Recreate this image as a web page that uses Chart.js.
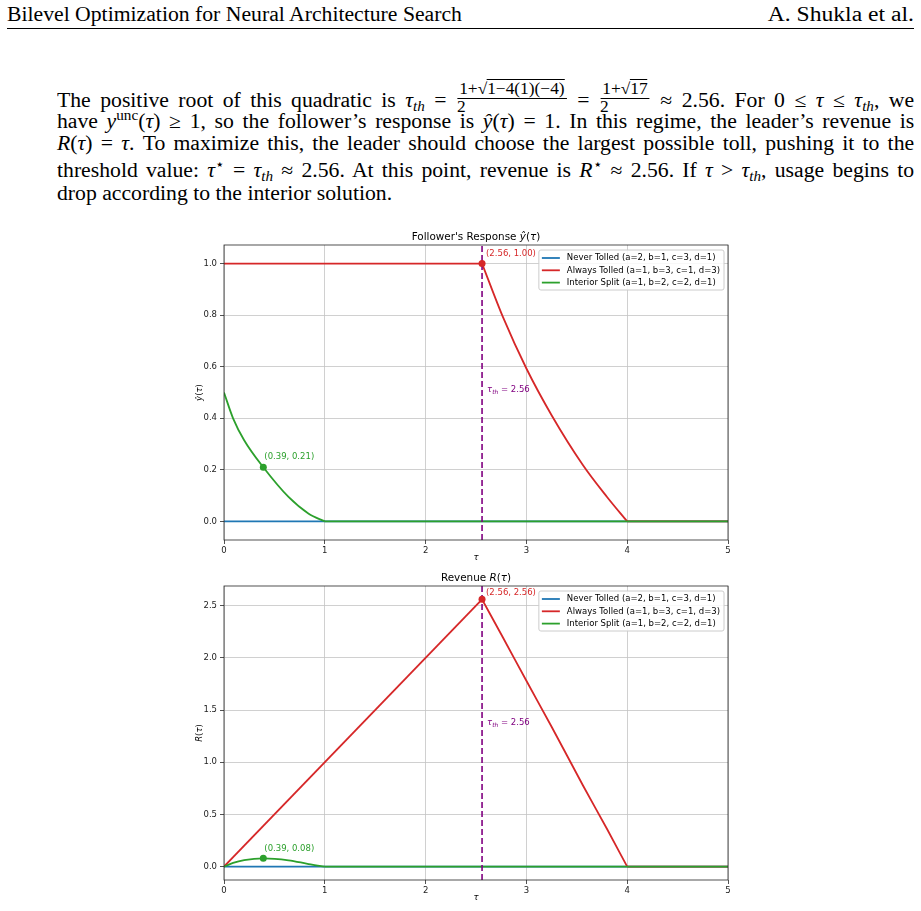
<!DOCTYPE html>
<html>
<head>
<meta charset="utf-8">
<script src="https://cdn.jsdelivr.net/npm/chart.js@4.4.0/dist/chart.umd.min.js"></script>
<style>
    body { margin: 0; width: 921px; height: 911px; background: #fff; position: relative; overflow: hidden; font-family: "Liberation Serif", serif; color: #000; }
    .hdr { position: absolute; top: 3px; font-size: 20px; line-height: 22px; white-space: nowrap; transform: scaleX(1.085); }
    .rule { position: absolute; left: 7px; width: 907px; top: 28px; height: 1px; background: #000; }
    .ln { position: absolute; left: 57px; width: 790px; font-size: 20px; line-height: 22px; text-align: justify; text-align-last: justify; white-space: nowrap; transform: scaleX(1.085); transform-origin: 0 0; }
    .ln sub, .ln sup { font-size: 0.7em; line-height: 0; }
    .ln sub { vertical-align: -0.25em; }
    .frac { display: inline-block; vertical-align: middle; position: relative; top: -4px; text-align: center; font-size: 16px; line-height: 16px; margin: -14px 1px; }
    .frac .num { display: block; border-bottom: 1px solid #000; padding: 0 2px 1px; }
    .frac .den { display: block; }
    .ov { border-top: 1px solid #000; }
    canvas { position: absolute; left: 140px; }
</style>
</head>
<body>
<div class="hdr" style="left:7px; transform-origin:0 0">Bilevel Optimization for Neural Architecture Search</div>
<div class="hdr" style="right:7px; transform-origin:100% 0; transform:scaleX(1.18)">A. Shukla et al.</div>
<div class="rule"></div>

<div class="ln" style="top:89px">The positive root of this quadratic is <i>τ<sub>th</sub></i> = <span class="frac"><span class="num">1+√<span class="ov">1−4(1)(−4)</span></span><span class="den">2</span></span> = <span class="frac"><span class="num">1+√<span class="ov">17</span></span><span class="den">2</span></span> ≈ 2.56. For 0 ≤ <i>τ</i> ≤ <i>τ<sub>th</sub></i>, we</div>
<div class="ln" style="top:110px">have <i>y</i><sup>unc</sup>(<i>τ</i>) ≥ 1, so the follower’s response is <i>ŷ</i>(<i>τ</i>) = 1. In this regime, the leader’s revenue is</div>
<div class="ln" style="top:132px"><i>R</i>(<i>τ</i>) = <i>τ</i>. To maximize this, the leader should choose the largest possible toll, pushing it to the</div>
<div class="ln" style="top:159px">threshold value: <i>τ</i><sup>⋆</sup> = <i>τ<sub>th</sub></i> ≈ 2.56. At this point, revenue is <i>R</i><sup>⋆</sup> ≈ 2.56. If <i>τ</i> &gt; <i>τ<sub>th</sub></i>, usage begins to</div>
<div class="ln" style="top:182px; text-align-last:left">drop according to the interior solution.</div>

<canvas id="responseChart" width="610" height="340" style="top:225px"></canvas>
<canvas id="revenueChart" width="610" height="345" style="top:566px"></canvas>

<script>
// tick labels
const tauTicks = [0, 1, 2, 3, 4, 5];
const responseTicks = [0.0, 0.2, 0.4, 0.6, 0.8, 1.0];
const revenueTicks = [0.0, 0.5, 1.0, 1.5, 2.0, 2.5];

const seriesLabels = [
    "Never Tolled (a=2, b=1, c=3, d=1)",
    "Always Tolled (a=1, b=3, c=1, d=3)",
    "Interior Split (a=1, b=2, c=2, d=1)",
];

const tauThreshold = 2.56;

// Never Tolled: flat at zero
const neverTau = [0, 5];
const neverResponse = [0, 0];
const neverRevenue = [0, 0];

// Always Tolled: flat part up to the threshold
const alwaysFlatTau = [0, 2.56];
const alwaysFlatResponse = [1.0, 1.0];
const alwaysFlatRevenue = [0.0, 2.56];

// Always Tolled: falling part after the threshold
const alwaysDropTau = [2.56, 2.77, 3.0, 3.25, 3.56, 3.8, 4.0];
const alwaysDropResponse = [1.0, 0.79, 0.593, 0.412, 0.219, 0.095, 0.0];
const alwaysDropRevenue = [2.56, 2.19, 1.78, 1.34, 0.78, 0.36, 0.0];

const alwaysTailTau = [4, 5];
const alwaysTailValue = [0, 0];

// Interior Split: curved part on [0, 1]
const interiorTau = [0, 0.09, 0.2, 0.39, 0.64, 0.84, 1.0];
const interiorResponse = [0.5, 0.4, 0.315, 0.21, 0.095, 0.03, 0.0];
const interiorRevenue = [0.0, 0.036, 0.063, 0.08, 0.061, 0.025, 0.0];

const interiorTailTau = [1, 5];
const interiorTailValue = [0, 0];

// marked optima
const responseMarks = [[2.56, 1.0], [0.39, 0.21]];
const revenueMarks = [[2.56, 2.56], [0.39, 0.08]];

const BLUE = "#1f77b4";
const RED = "#d62728";
const GREEN = "#2ca02c";
const PURPLE = "#800080";
const FONT = '"DejaVu Sans", sans-serif';
const SMALL = 8.5;

function line(xs, ys, color, extra) {
    return Object.assign({
        data: xs.map((x, i) => ({ x: x, y: ys[i] })),
        borderColor: color,
        backgroundColor: color,
        borderWidth: 1.8,
        pointRadius: 0,
        fill: false,
        tension: 0,
    }, extra);
}

// draw text made of pieces: [text, style] with style "", "i" or "sub"
function drawRich(ctx, parts, x, y, size, align, color) {
    const fontOf = (s) => (s === "i" ? "italic " + size : s === "sub" ? "italic " + (size * 0.7).toFixed(1) : size) + "px " + FONT;
    const widths = parts.map((p) => {
        ctx.font = fontOf(p[1]);
        return ctx.measureText(p[0]).width;
    });
    const total = widths.reduce((a, b) => a + b, 0);
    let cx = align === "center" ? x - total / 2 : align === "right" ? x - total : x;
    ctx.fillStyle = color;
    ctx.textAlign = "left";
    parts.forEach((p, i) => {
        ctx.font = fontOf(p[1]);
        ctx.fillText(p[0], cx, y + (p[1] === "sub" ? size * 0.3 : 0));
        cx += widths[i];
    });
}

function makePanel(elementId, panel) {
    const canvas = document.getElementById(elementId);

    if (!canvas) {
        return;
    }

    const datasets = [
        line(neverTau, panel.never, BLUE, { order: 4 }),
        line(alwaysFlatTau, panel.alwaysFlat, RED, { order: 3 }),
        line(alwaysDropTau, panel.alwaysDrop, RED, { order: 3, cubicInterpolationMode: "monotone" }),
        line(alwaysTailTau, alwaysTailValue, RED, { order: 3 }),
        line(interiorTau, panel.interior, GREEN, { order: 2, cubicInterpolationMode: "monotone" }),
        line(interiorTailTau, interiorTailValue, GREEN, { order: 2 }),
        line([tauThreshold, tauThreshold], [panel.yMin, panel.yMax], PURPLE, { order: 1, borderWidth: 1.6, borderDash: [6, 3] }),
        line([panel.marks[0][0]], [panel.marks[0][1]], RED, { order: 0, showLine: false, pointRadius: 3.5, pointBorderWidth: 0 }),
        line([panel.marks[1][0]], [panel.marks[1][1]], GREEN, { order: 0, showLine: false, pointRadius: 3.5, pointBorderWidth: 0 }),
    ];

    const decor = {
        id: "decor",
        afterDraw(chart) {
            const { ctx, chartArea: a, scales } = chart;
            const xs = scales.x;
            const ys = scales.y;
            ctx.save();

            // axes frame
            ctx.strokeStyle = "#262626";
            ctx.lineWidth = 0.8;
            ctx.strokeRect(a.left, a.top, a.right - a.left, a.bottom - a.top);

            // title and axis labels
            ctx.textBaseline = "alphabetic";
            drawRich(ctx, panel.title, (a.left + a.right) / 2, a.top - 5, 10.4, "center", "#000");
            drawRich(ctx, [["τ", "i"]], (a.left + a.right) / 2, a.bottom + 20, SMALL, "center", "#000");
            ctx.save();
            ctx.translate(a.left - 22, (a.top + a.bottom) / 2);
            ctx.rotate(-Math.PI / 2);
            drawRich(ctx, panel.ylabel, 0, 0, SMALL, "center", "#000");
            ctx.restore();

            // optimum annotations
            const rx = xs.getPixelForValue(panel.marks[0][0]);
            const ry = ys.getPixelForValue(panel.marks[0][1]);
            const gx = xs.getPixelForValue(panel.marks[1][0]);
            const gy = ys.getPixelForValue(panel.marks[1][1]);
            ctx.textBaseline = "middle";
            drawRich(ctx, [["(" + panel.marks[0][0].toFixed(2) + ", " + panel.marks[0][1].toFixed(2) + ")", ""]], rx + 4, ry + panel.redDy, SMALL, "left", RED);
            drawRich(ctx, [["(" + panel.marks[1][0].toFixed(2) + ", " + panel.marks[1][1].toFixed(2) + ")", ""]], gx + 1, gy + panel.greenDy, SMALL, "left", GREEN);

            // threshold label
            drawRich(ctx, [["τ", "i"], ["th", "sub"], [" = 2.56", ""]],
                xs.getPixelForValue(2.61), ys.getPixelForValue(panel.thY), SMALL, "left", PURPLE);

            // legend
            ctx.font = SMALL + "px " + FONT;
            const textW = Math.max(...seriesLabels.map((s) => ctx.measureText(s).width));
            const boxW = 3 + 18 + 7 + textW + 4;
            const boxH = 40;
            const bx = a.right - 4 - boxW;
            const by = a.top + 5;
            ctx.fillStyle = "rgba(255,255,255,0.85)";
            ctx.strokeStyle = "#cccccc";
            ctx.lineWidth = 1;
            ctx.beginPath();
            ctx.roundRect(bx, by, boxW, boxH, 2);
            ctx.fill();
            ctx.stroke();
            [BLUE, RED, GREEN].forEach((c, i) => {
                const yy = by + 8 + i * 12.3;
                ctx.strokeStyle = c;
                ctx.lineWidth = 1.8;
                ctx.beginPath();
                ctx.moveTo(bx + 3, yy);
                ctx.lineTo(bx + 21, yy);
                ctx.stroke();
                ctx.fillStyle = "#000";
                ctx.textBaseline = "middle";
                ctx.fillText(seriesLabels[i], bx + 28, yy);
            });

            ctx.restore();
        },
    };

    const grid = { color: "#c4c4c4", lineWidth: 0.8, tickColor: "#262626", tickLength: 4 };
    const tickFont = { family: FONT, size: SMALL };

    new Chart(canvas.getContext("2d"), {
        type: "line",
        data: { datasets: datasets },
        options: {
            responsive: false,
            animation: false,
            devicePixelRatio: 1,
            layout: { padding: { top: 20, right: 22, left: 0, bottom: 0 } },
            plugins: { legend: { display: false }, tooltip: { enabled: false } },
            scales: {
                x: {
                    type: "linear",
                    min: 0,
                    max: 5,
                    afterBuildTicks: (s) => { s.ticks = tauTicks.map((v) => ({ value: v })); },
                    afterFit: (s) => { s.height = panel.xAxisH; },
                    grid: grid,
                    border: { display: false },
                    ticks: { font: tickFont, color: "#222", padding: 2, maxRotation: 0, callback: (v) => String(v) },
                },
                y: {
                    type: "linear",
                    min: panel.yMin,
                    max: panel.yMax,
                    afterBuildTicks: (s) => { s.ticks = panel.ticks.map((v) => ({ value: v })); },
                    afterFit: (s) => { s.width = 84; },
                    grid: grid,
                    border: { display: false },
                    ticks: { font: tickFont, color: "#222", padding: 3, callback: (v) => v.toFixed(1) },
                },
            },
        },
        plugins: [decor],
    });
}

makePanel("responseChart", {
    yMin: -0.072,
    yMax: 1.072,
    ticks: responseTicks,
    xAxisH: 25,
    never: neverResponse,
    alwaysFlat: alwaysFlatResponse,
    alwaysDrop: alwaysDropResponse,
    interior: interiorResponse,
    marks: responseMarks,
    redDy: -10,
    greenDy: -10,
    thY: 0.51,
    title: [["Follower's Response ", ""], ["ŷ", "i"], ["(", ""], ["τ", "i"], [")", ""]],
    ylabel: [["ŷ", "i"], ["(", ""], ["τ", "i"], [")", ""]],
});

makePanel("revenueChart", {
    yMin: -0.128,
    yMax: 2.688,
    ticks: revenueTicks,
    xAxisH: 31,
    never: neverRevenue,
    alwaysFlat: alwaysFlatRevenue,
    alwaysDrop: alwaysDropRevenue,
    interior: interiorRevenue,
    marks: revenueMarks,
    redDy: -7,
    greenDy: -9,
    thY: 1.375,
    title: [["Revenue ", ""], ["R", "i"], ["(", ""], ["τ", "i"], [")", ""]],
    ylabel: [["R", "i"], ["(", ""], ["τ", "i"], [")", ""]],
});
</script>
</body>
</html>
